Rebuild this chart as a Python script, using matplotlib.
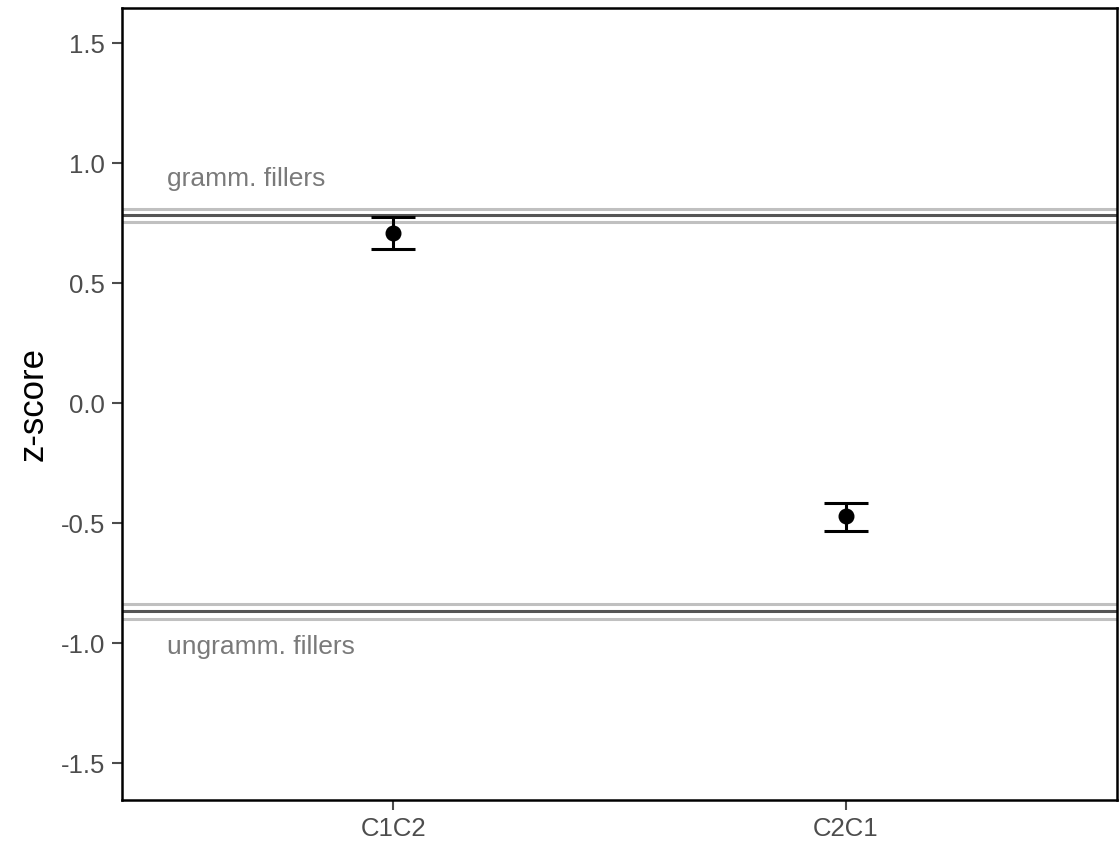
import matplotlib
matplotlib.use("Agg")
import matplotlib.pyplot as plt

plt.rcParams['font.family'] = ['Liberation Sans', 'DejaVu Sans']

# data
conditions = ["C1C2", "C2C1"]
means = [0.707, -0.471]
lower = [0.640, -0.533]
upper = [0.774, -0.415]

filler_labels = ["gramm. fillers", "ungramm. fillers"]
filler_means = [0.782, -0.868]
filler_lo = [0.756, -0.898]
filler_hi = [0.808, -0.836]

fig = plt.figure(figsize=(11.19, 8.41), dpi=100)
ax = fig.add_axes([122/1119, 1 - 800/841, (1117-122)/1119, (800-8)/841])

xs = list(range(1, len(conditions) + 1))

# filler reference lines
for lab, m, lo, hi in zip(filler_labels, filler_means, filler_lo, filler_hi):
    ax.axhline(lo, color="#c0c0c0", lw=2.2, zorder=1)
    ax.axhline(hi, color="#c0c0c0", lw=2.2, zorder=1)
    ax.axhline(m, color="#555555", lw=2.2, zorder=2)
    off = 0.15 if m > 0 else -0.15
    ax.text(0.5, m + off, lab, color="#7a7a7a", fontsize=19, ha="left", va="center")

# error bars + points
yerr = [[m - l for m, l in zip(means, lower)], [u - m for m, u in zip(means, upper)]]
ax.errorbar(xs, means, yerr=yerr, fmt="o", color="black", ms=10.5, lw=2.2,
            capsize=16, capthick=2.2, zorder=3)

ax.set_xlim(0.4, 2.6)
ax.set_ylim(-1.654, 1.646)
ax.set_xticks(xs)
ax.set_xticklabels(conditions)
ax.set_yticks([-1.5, -1.0, -0.5, 0.0, 0.5, 1.0, 1.5])
ax.set_yticklabels(["-1.5", "-1.0", "-0.5", "0.0", "0.5", "1.0", "1.5"])
ax.tick_params(colors="#4d4d4d", labelsize=18.5, length=7, width=1.5, labelcolor="#4d4d4d",
               pad=5)
for s in ax.spines.values():
    s.set_linewidth(1.8)
    s.set_color("black")
ax.set_ylabel("z-score", fontsize=25, labelpad=8)

fig.savefig("out.png", dpi=100)
